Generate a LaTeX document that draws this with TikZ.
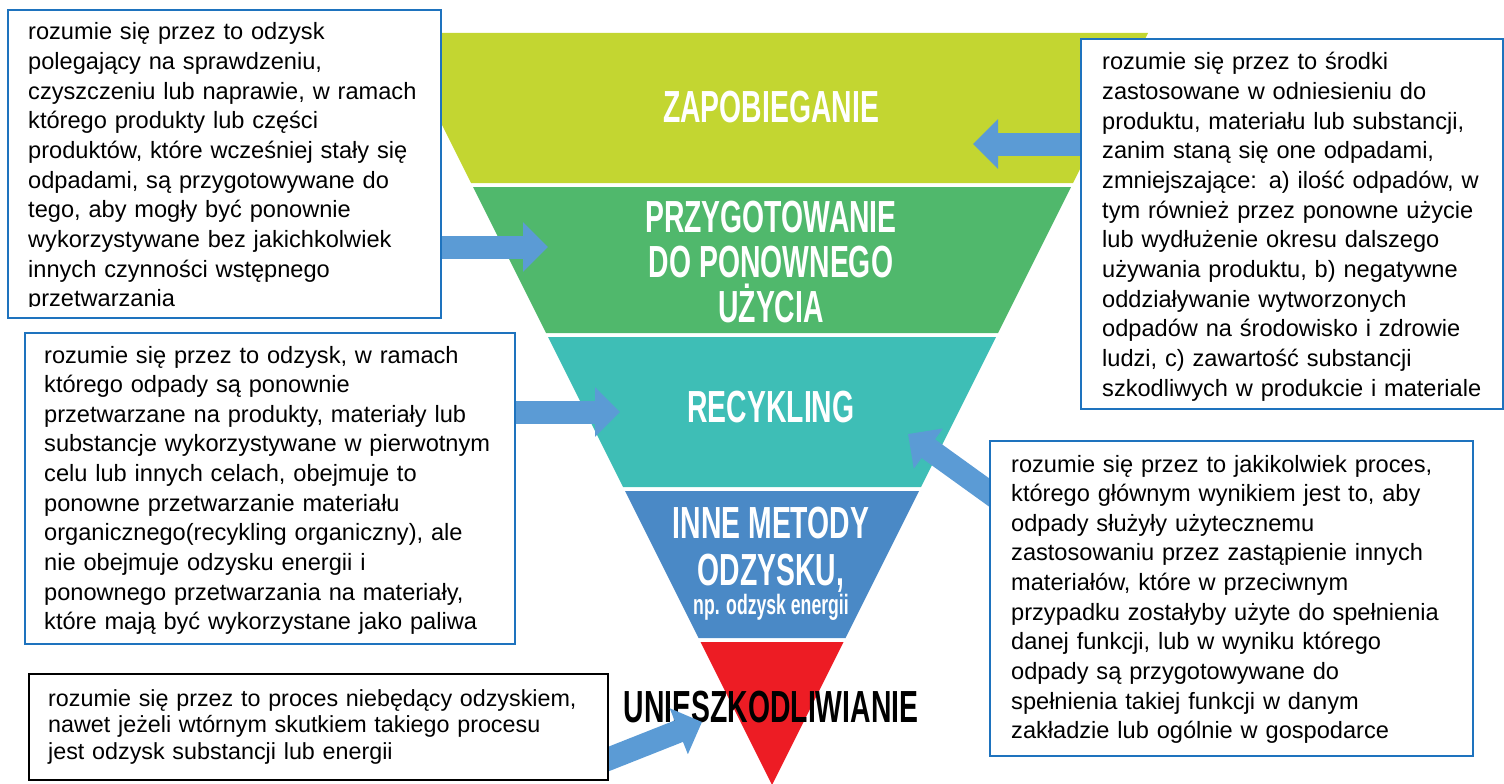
\documentclass[tikz,border=0pt]{standalone}
\usepackage{fontspec}
\setmainfont{Liberation Sans}
\newfontfamily\bandfont[FakeStretch=0.63]{Liberation Sans}
\usetikzlibrary{arrows.meta,calc}
\definecolor{zapob}{RGB}{195,214,49}
\definecolor{przyg}{RGB}{80,184,108}
\definecolor{recyk}{RGB}{62,190,182}
\definecolor{odzysk}{RGB}{74,137,198}
\definecolor{unieszk}{RGB}{237,28,36}
\definecolor{strzalka}{RGB}{91,155,213}
\definecolor{ramka}{RGB}{30,115,190}
\pgfdeclarelayer{pasy}
\pgfdeclarelayer{strzalki}
\pgfsetlayers{pasy,strzalki,main}

\begin{document}
\begin{tikzpicture}[x=1pt,y=-1pt,
    bandtext/.style={text=white, inner sep=0, anchor=base,
      font=\bandfont\bfseries\fontsize{45}{47}\selectfont},
    infobox/.style={draw=ramka, line width=1.8pt, fill=white, inner sep=0, anchor=north west},
    infotext/.style={inner sep=0, anchor=base west, text width=700pt, align=left,
      font=\fontsize{23.6}{29.65}\selectfont},
    blockarrow/.style={draw=strzalka, line width=23pt,
      -{Triangle[length=25pt,width=48pt]}}]
    \useasboundingbox (0,0) rectangle (1504,784);

    \begin{pgfonlayer}{pasy}
        \fill[zapob] (440,33) -- (1148,33) -- (1073,183) -- (471,183) -- (440,121) -- cycle;
        \fill[przyg] (473,187) -- (1071,187) -- (998,333) -- (546,333) -- cycle;
        \fill[recyk] (548,337) -- (996,337) -- (921,487) -- (623,487) -- cycle;
        \fill[odzysk] (625,491) -- (919,491) -- (845.5,638) -- (698.5,638) -- cycle;
        \fill[unieszk] (700.5,642) -- (843.5,642) -- (772,785) -- cycle;

        \node[bandtext] (zap) at (771,122) {ZAPOBIEGANIE};
        \node[bandtext] (prz1) at (771,232) {PRZYGOTOWANIE};
        \node[bandtext] (prz2) at (771,277) {DO PONOWNEGO};
        \node[bandtext] (prz3) at (771,322) {UŻYCIA};
        \node[bandtext] (rec) at (771,422) {RECYKLING};
        \node[bandtext] (inn1) at (771,538) {INNE METODY};
        \node[bandtext] (inn2) at (771,585) {ODZYSKU,};
        \node[bandtext, font=\bandfont\bfseries\fontsize{28}{30}\selectfont] (inn3) at (771,614) {np. odzysk energii};
        \node[bandtext, text=black] (uni) at (771,722) {UNIESZKODLIWIANIE};
    \end{pgfonlayer}

    \node[infobox, minimum width=433pt, minimum height=308pt] (prepbox) at (7,9) {};
    \begin{scope}
        \clip (prepbox.north west) rectangle ([yshift=12pt]prepbox.south east);
        \node[infotext] (preptext) at (28,40) {rozumie się przez to odzysk\\
            polegający na sprawdzeniu,\\
            czyszczeniu lub naprawie, w ramach\\
            którego produkty lub części\\
            produktów, które wcześniej stały się\\
            odpadami, są przygotowywane do\\
            tego, aby mogły być ponownie\\
            wykorzystywane bez jakichkolwiek\\
            innych czynności wstępnego\\
            przetwarzania};
    \end{scope}

    \node[infobox, minimum width=422pt, minimum height=370pt] (prevbox) at (1080,38) {};
    \begin{scope}
        \clip (prevbox.north west) rectangle ([yshift=8pt]prevbox.south east);
        \node[infotext] (prevtext) at (1102,70) {rozumie się przez to środki\\
            zastosowane w odniesieniu do\\
            produktu, materiału lub substancji,\\
            zanim staną się one odpadami,\\
            zmniejszające: a) ilość odpadów, w\\
            tym również przez ponowne użycie\\
            lub wydłużenie okresu dalszego\\
            używania produktu, b) negatywne\\
            oddziaływanie wytworzonych\\
            odpadów na środowisko i zdrowie\\
            ludzi, c) zawartość substancji\\
            szkodliwych w produkcie i materiale};
    \end{scope}

    \node[infobox, minimum width=490pt, minimum height=311pt] (recbox) at (24,332) {};
    \begin{scope}
        \clip (recbox.north west) rectangle ([yshift=11pt]recbox.south east);
        \node[infotext] (rectext) at (44,363) {rozumie się przez to odzysk, w ramach\\
            którego odpady są ponownie\\
            przetwarzane na produkty, materiały lub\\
            substancje wykorzystywane w pierwotnym\\
            celu lub innych celach, obejmuje to\\
            ponowne przetwarzanie materiału\\
            organicznego(recykling organiczny), ale\\
            nie obejmuje odzysku energii i\\
            ponownego przetwarzania na materiały,\\
            które mają być wykorzystane jako paliwa};
    \end{scope}

    \node[infobox, minimum width=483pt, minimum height=315pt] (odzbox) at (989,440) {};
    \node[infotext] (odztext) at (1011,472) {rozumie się przez to jakikolwiek proces,\\
        którego głównym wynikiem jest to, aby\\
        odpady służyły użytecznemu\\
        zastosowaniu przez zastąpienie innych\\
        materiałów, które w przeciwnym\\
        przypadku zostałyby użyte do spełnienia\\
        danej funkcji, lub w wyniku którego\\
        odpady są przygotowywane do\\
        spełnienia takiej funkcji w danym\\
        zakładzie lub ogólnie w gospodarce};

    \node[infobox, draw=black, line width=2.4pt, minimum width=579pt, minimum height=106pt] (unibox) at (28,673) {};
    \node[infotext, font=\fontsize{23.3}{26.5}\selectfont] (unitext) at (48,706) {rozumie się przez to proces niebędący odzyskiem,\\
        nawet jeżeli wtórnym skutkiem takiego procesu\\
        jest odzysk substancji lub energii};

    \coordinate (tipzap) at (973,144);
    \coordinate (tipprz) at (548,247);
    \coordinate (tiprec) at (620,412);
    \coordinate (tipodz) at (908,434);
    \coordinate (tipuni) at (702,722);

    \begin{pgfonlayer}{strzalki}
        \draw[blockarrow] (prevbox.west |- tipzap) -- (tipzap);
        \draw[blockarrow] (prepbox.east |- tipprz) -- (tipprz);
        \draw[blockarrow] (recbox.east |- tiprec) -- (tiprec);
        \draw[blockarrow] ($(odzbox.north west)+(12,61)$) -- (tipodz);
        \draw[blockarrow] ($(unibox.south east)+(-12,-18)$) -- (tipuni);
    \end{pgfonlayer}
\end{tikzpicture}
\end{document}
